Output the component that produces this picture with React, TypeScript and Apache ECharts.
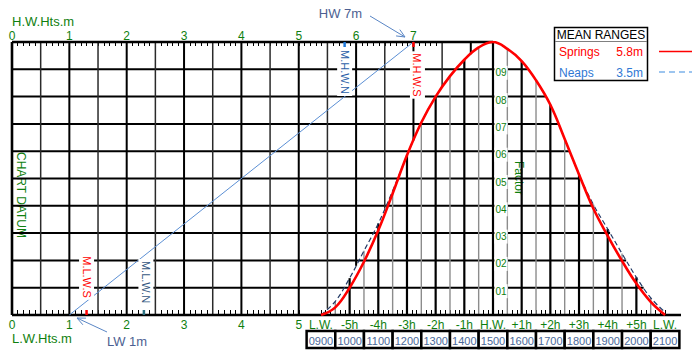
import React, { useEffect, useRef } from "react";
import * as echarts from "echarts";

// ---------- data ----------
const tideHours = [-6, -5.5, -5, -4.5, -4, -3.5, -3, -2.5, -2, -1.5, -1, -0.5, 0, 0.5, 1, 1.5, 2, 2.5, 3, 3.5, 4, 4.5, 5, 5.5, 6];
const springsFactor = [0, 0.028, 0.1, 0.195, 0.31, 0.445, 0.585, 0.705, 0.8, 0.875, 0.935, 0.98, 1.0, 0.975, 0.93, 0.86, 0.77, 0.645, 0.515, 0.39, 0.29, 0.198, 0.115, 0.048, 0];
const neapsFactor = [0, 0.05, 0.135, 0.235, 0.335, 0.455, 0.585, 0.705, 0.8, 0.875, 0.935, 0.98, 1.0, 0.975, 0.93, 0.86, 0.77, 0.645, 0.515, 0.405, 0.315, 0.225, 0.138, 0.063, 0.01];

const timeLabelHours = [-6, -5, -4, -3, -2, -1, 0, 1, 2, 3, 4, 5, 6];
const timeLabels = ["L.W.", "-5h", "-4h", "-3h", "-2h", "-1h", "H.W.", "+1h", "+2h", "+3h", "+4h", "+5h", "L.W."];
const clockTimes = ["0900", "1000", "1100", "1200", "1300", "1400", "1500", "1600", "1700", "1800", "1900", "2000", "2100"];
const hwHeightLabels = [0, 1, 2, 3, 4, 5, 6, 7];
const lwHeightLabels = [0, 1, 2, 3, 4, 5];
const factorValues = [0.9, 0.8, 0.7, 0.6, 0.5, 0.4, 0.3, 0.2, 0.1];
const factorLabels = ["09", "08", "07", "06", "05", "04", "03", "02", "01"];
const levelNames = ["M.H.W.S", "M.H.W.N", "M.L.W.N", "M.L.W.S"];
const levelHeights = [7.0, 5.8, 2.3, 1.3];
const lowWaterHeight = 1;
const highWaterHeight = 7;
const rangeNames = ["Springs", "Neaps"];
const rangeValues = ["5.8m", "3.5m"];

// ---------- layout ----------
const FONT = '"Liberation Sans", Arial, sans-serif';
const GREEN = "#0f7f0f";
const GRID_LEFT = 12;
const GRID_RIGHT = 681;
const HW_X = 493;
const PX_PER_HOUR = 28.675;
const HOURS_PER_METRE = 2;
const T_MIN = (GRID_LEFT - HW_X) / PX_PER_HOUR;
const T_MAX = (GRID_RIGHT - HW_X) / PX_PER_HOUR;
const M_MAX = (T_MAX - T_MIN) / HOURS_PER_METRE;
const m2t = (m: number) => T_MIN + HOURS_PER_METRE * m;

const LINE_STYLES = [
  { color: "#000", width: 2.6 },
  { color: "#000", width: 2 },
  { color: "#2a2a2a", width: 1.5 },
  { color: "#000", width: 2.2 },
  { color: "#8c8c8c", width: 1.4 },
];

const LEVEL_STYLE = [
  { text: "#ff0000", tick: "#ff0000", dx: 4, dy: 33, dir: 1, edge: 1 },
  { text: "#2c5fa8", tick: "#1f78d8", dx: 0, dy: 30, dir: 1, edge: 1 },
  { text: "#35577f", tick: "#2a6f80", dx: 2, dy: -33, dir: -1, edge: 0 },
  { text: "#ff0000", tick: "#ff0000", dx: 0, dy: -38, dir: -1, edge: 0 },
];

const envelope = tideHours.map((_, i) => Math.max(springsFactor[i], neapsFactor[i]));
function envAt(t: number) {
  if (t <= tideHours[0] || t >= tideHours[tideHours.length - 1]) return 0;
  for (let i = 0; i < tideHours.length - 1; i++) {
    const a = tideHours[i], b = tideHours[i + 1];
    if (t >= a && t <= b) {
      const r = (t - a) / (b - a);
      return envelope[i] + r * (envelope[i + 1] - envelope[i]);
    }
  }
  return 0;
}
function fallTime(f: number) {
  const h = tideHours.indexOf(0);
  for (let i = h; i < tideHours.length - 1; i++) {
    if (envelope[i] >= f && envelope[i + 1] <= f) {
      const r = (envelope[i] - f) / (envelope[i] - envelope[i + 1]);
      return tideHours[i] + r * (tideHours[i + 1] - tideHours[i]);
    }
  }
  return tideHours[tideHours.length - 1];
}

function buildGridLines() {
  const lines: number[][] = [];
  factorValues.forEach((f) => lines.push([T_MIN, f, fallTime(f), f, 1]));
  for (let k = 0; k <= 40; k++) {
    const m = k * 0.5;
    const t = m2t(m);
    if (t >= 0) break;
    const bottom = t <= tideHours[0] ? 0 : envAt(t);
    lines.push([t, bottom, t, 1, k === 0 ? 0 : k % 2 === 0 ? 1 : 2]);
  }
  for (let k = -11; k <= 11; k++) {
    const t = k * 0.5;
    lines.push([t, 0, t, envAt(t), k % 2 === 0 ? 3 : 4]);
  }
  lines.push([T_MIN, 1, 0, 1, 0]);
  lines.push([T_MIN, 0, T_MAX, 0, 0]);
  return lines;
}

function arrow(x1: number, y1: number, x2: number, y2: number, color: string) {
  const dx = x2 - x1, dy = y2 - y1;
  const L = Math.hypot(dx, dy);
  const bx = -dx / L, by = -dy / L;
  const len = 9, a = 0.42;
  const r = (ang: number) => [x2 + len * (bx * Math.cos(ang) - by * Math.sin(ang)), y2 + len * (bx * Math.sin(ang) + by * Math.cos(ang))];
  return [
    { type: "line", shape: { x1, y1, x2, y2 }, style: { stroke: color, lineWidth: 1 } },
    { type: "polyline", shape: { points: [r(a), [x2, y2], r(-a)] }, style: { stroke: color, lineWidth: 1, fill: null } },
  ];
}

function txt(text: string, x: number, y: number, size: number, fill: string, align = "center", extra: any = {}) {
  return {
    type: "text",
    x,
    y,
    ...extra,
    style: {
      text,
      fill,
      font: `${size}px ${FONT}`,
      textAlign: align,
      align,
      textVerticalAlign: "middle",
      verticalAlign: "middle",
      ...(extra.style || {}),
    },
  };
}

export default function App() {
  const ref = useRef<HTMLDivElement>(null);
  useEffect(() => {
    if (!ref.current) return;
    const chart = echarts.init(ref.current, undefined, { renderer: "svg" });

    const timeTicks: number[] = [];
    for (let k = -36; k <= 36; k++) timeTicks.push(k / 6);
    const lwTicks: number[] = [];
    for (let k = 0; k <= 50; k++) lwTicks.push(k / 10);
    const hwTicks: number[] = [];
    for (let k = 0; k <= 74; k++) hwTicks.push(k / 10);

    const gridLines = buildGridLines();
    const ARROW_COLOR = "#5a86c5";
    const NOTE_COLOR = "#4c5f92";

    const option: any = {
      animation: false,
      textStyle: { fontFamily: FONT },
      grid: [
        { left: GRID_LEFT, right: 700 - GRID_RIGHT, top: 42, bottom: 41 },
        { left: GRID_LEFT, right: 700 - GRID_RIGHT, top: 331, height: 17 },
      ],
      xAxis: [
        {
          type: "value", gridIndex: 0, min: T_MIN, max: T_MAX, position: "bottom",
          axisLine: { show: false }, splitLine: { show: false },
          axisTick: { show: true, inside: true, length: 5, customValues: timeTicks, lineStyle: { color: "#000", width: 1 } },
          axisLabel: {
            customValues: timeLabelHours, margin: 4, color: GREEN, fontSize: 12, fontFamily: FONT,
            formatter: (v: number) => timeLabels[timeLabelHours.indexOf(Math.round(v))] || "",
          },
        },
        {
          type: "value", gridIndex: 0, min: 0, max: M_MAX, position: "top",
          axisLine: { show: false }, splitLine: { show: false },
          axisTick: { show: true, inside: true, length: 4, customValues: hwTicks, lineStyle: { color: "#000", width: 1 } },
          axisLabel: { customValues: hwHeightLabels, margin: 0, color: GREEN, fontSize: 12, fontFamily: FONT, formatter: (v: number) => String(Math.round(v)) },
        },
        {
          type: "value", gridIndex: 0, min: 0, max: M_MAX, position: "bottom",
          axisLine: { show: false }, splitLine: { show: false },
          axisTick: { show: true, inside: true, length: 5, customValues: lwTicks, lineStyle: { color: "#000", width: 1 } },
          axisLabel: { customValues: lwHeightLabels, margin: 4, color: GREEN, fontSize: 12, fontFamily: FONT, formatter: (v: number) => String(Math.round(v)) },
        },
        { type: "value", gridIndex: 1, min: T_MIN, max: T_MAX, show: false },
      ],
      yAxis: [
        { type: "value", gridIndex: 0, min: 0, max: 1, show: false },
        { type: "value", gridIndex: 1, min: 0, max: 1, show: false },
      ],
      series: [
        {
          type: "custom", name: "grid", xAxisIndex: 0, yAxisIndex: 0, silent: true, clip: false, z: 2,
          data: gridLines,
          renderItem: (_p: any, api: any) => {
            const a = api.coord([api.value(0), api.value(1)]);
            const b = api.coord([api.value(2), api.value(3)]);
            const s = LINE_STYLES[api.value(4)];
            return { type: "line", shape: { x1: a[0], y1: a[1], x2: b[0], y2: b[1] }, style: { stroke: s.color, lineWidth: s.width } };
          },
        },
        {
          type: "line", name: "LW-HW", xAxisIndex: 1, yAxisIndex: 0, z: 3, silent: true,
          data: [[lowWaterHeight, 0], [highWaterHeight, 1]],
          symbol: "none", lineStyle: { color: "#5b8fd4", width: 1 },
        },
        {
          type: "line", name: "Neaps", xAxisIndex: 0, yAxisIndex: 0, z: 4, silent: true,
          data: tideHours.map((t, i) => [t, neapsFactor[i]]),
          smooth: 0.4, symbol: "none",
          lineStyle: { color: "#233a66", width: 1.2, type: [5, 3] },
        },
        {
          type: "line", name: "Springs", xAxisIndex: 0, yAxisIndex: 0, z: 5, silent: true,
          data: tideHours.map((t, i) => [t, springsFactor[i]]),
          smooth: 0.4, symbol: "none",
          lineStyle: { color: "#ff0000", width: 2.6 },
        },
        {
          type: "custom", name: "factor", xAxisIndex: 0, yAxisIndex: 0, silent: true, clip: false, z: 6,
          data: factorValues.map((f, i) => [0, f, i]),
          renderItem: (_p: any, api: any) => {
            const p = api.coord([api.value(0), api.value(1)]);
            return txt(factorLabels[api.value(2)], p[0] + 8, p[1] + 3.5, 10, GREEN, "center", {
              style: { backgroundColor: "#fff", padding: [2, 1] },
            });
          },
        },
        {
          type: "custom", name: "levels", xAxisIndex: 1, yAxisIndex: 0, silent: true, clip: false, z: 6,
          data: levelHeights.map((m, i) => [m, LEVEL_STYLE[i].edge, i]),
          renderItem: (_p: any, api: any) => {
            const i = api.value(2);
            const st = LEVEL_STYLE[i];
            const p = api.coord([api.value(0), api.value(1)]);
            return {
              type: "group",
              children: [
                txt(levelNames[i], p[0] + st.dx, p[1] + st.dy, 11, st.text, "center", {
                  rotation: -Math.PI / 2,
                  style: { backgroundColor: "#fff", padding: [2, 2] },
                }),
                { type: "line", shape: { x1: p[0], y1: p[1], x2: p[0], y2: p[1] + st.dir * 5 }, style: { stroke: st.tick, lineWidth: 2.5 } },
              ],
            };
          },
        },
        {
          type: "custom", name: "clock", xAxisIndex: 3, yAxisIndex: 1, silent: true, clip: false, z: 6,
          data: clockTimes.map((_c, i) => [timeLabelHours[i], i]),
          renderItem: (_p: any, api: any) => {
            const t = api.value(0);
            const a = api.coord([t - 0.5, 1]);
            const b = api.coord([t + 0.5, 0]);
            return {
              type: "group",
              children: [
                { type: "rect", shape: { x: a[0], y: a[1], width: b[0] - a[0], height: b[1] - a[1] }, style: { fill: "#fff", stroke: "#000", lineWidth: 2.5 } },
                txt(clockTimes[api.value(1)], (a[0] + b[0]) / 2, (a[1] + b[1]) / 2 + 1, 11, "#4a6899"),
              ],
            };
          },
        },
      ],
      graphic: [
        txt("H.W.Hts.m", 12, 21.5, 13, GREEN, "left"),
        txt("L.W.Hts.m", 12, 338, 13, GREEN, "left"),
        txt("CHART DATUM", 21, 195, 12, GREEN, "center", { rotation: -Math.PI / 2, style: { backgroundColor: "#fff", padding: [2, 2] } }),
        txt("Factor", 519, 178, 12, GREEN, "center", { rotation: -Math.PI / 2, style: { backgroundColor: "#fff", padding: [3, 3] } }),
        txt("HW 7m", 340.5, 13.5, 13, NOTE_COLOR),
        ...arrow(370, 16, 405, 37, ARROW_COLOR),
        txt("LW 1m", 127, 341, 13, NOTE_COLOR),
        ...arrow(107, 332, 77, 318, ARROW_COLOR),
        { type: "rect", shape: { x: 554.5, y: 27.5, width: 93, height: 53 }, style: { fill: "#fff", stroke: "#000", lineWidth: 1.5 } },
        { type: "line", shape: { x1: 555, y1: 41.5, x2: 647, y2: 41.5 }, style: { stroke: "#808080", lineWidth: 1 } },
        txt("MEAN RANGES", 601, 34.5, 12, "#000"),
        txt(rangeNames[0], 559, 52, 12, "#ff0000", "left"),
        txt(rangeValues[0], 643, 52, 12, "#ff0000", "right"),
        txt(rangeNames[1], 559, 73, 12, "#2f78d4", "left"),
        txt(rangeValues[1], 643, 73, 12, "#2f78d4", "right"),
        { type: "line", shape: { x1: 659, y1: 51.5, x2: 692, y2: 51.5 }, style: { stroke: "#ff0000", lineWidth: 1.5 } },
        { type: "line", shape: { x1: 659, y1: 72, x2: 692, y2: 72 }, style: { stroke: "#3d8be0", lineWidth: 1.2, lineDash: [6, 4] } },
      ],
    };

    chart.setOption(option);
    return () => chart.dispose();
  }, []);

  return <div ref={ref} style={{ position: "fixed", left: 0, top: 0, width: 700, height: 356, background: "#fff" }} />;
}
